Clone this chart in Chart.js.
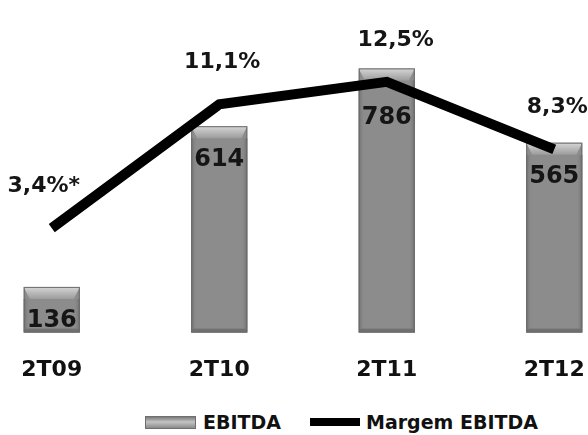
<!DOCTYPE html>
<html>
<head>
<meta charset="utf-8">
<script src="https://cdn.jsdelivr.net/npm/chart.js@4.4.0/dist/chart.umd.min.js"></script>
<style>
  html, body { margin: 0; padding: 0; background: #fff; overflow: hidden; }
  body { width: 588px; height: 435px; position: relative; font-family: "DejaVu Sans", sans-serif; }
  #wrap { position: absolute; left: -32px; top: 0; width: 670px; height: 407px; }
  #legend { position: absolute; left: 145px; top: 411px; display: flex; align-items: center;
            font-weight: bold; font-size: 19px; color: #111; white-space: nowrap; }
  .sw-bar { width: 51px; height: 13px; margin-right: 7px;
            background: linear-gradient(#7a7a7a, #c4c4c4 45%, #8a8a8a 100%); border: 1px solid #6f6f6f; box-sizing: border-box; }
  .sw-line { width: 50px; height: 8px; background: #000; margin-left: 29px; margin-right: 6px; }
</style>
</head>
<body>
<div id="wrap"><canvas id="chart" width="670" height="407"></canvas></div>
<div id="legend">
  <span class="sw-bar"></span><span>EBITDA</span>
  <span class="sw-line"></span><span>Margem EBITDA</span>
</div>
<script>
var categories = ['2T09', '2T10', '2T11', '2T12']
var ebitda = [136, 614, 786, 565]
var margem = [3.4, 11.1, 12.5, 8.3]
var margemLabels = ['3,4%*', '11,1%', '12,5%', '8,3%']

// bevel look on the bars, like the office chart
var bevelPlugin = {
  id: 'bevel',
  afterDatasetDraw: function(chart, args) {
    if (args.index !== 0) return
    var ctx = chart.ctx
    chart.getDatasetMeta(0).data.forEach(function(bar) {
      var w = bar.width, l = bar.x - w / 2, r = bar.x + w / 2, t = bar.y, b = bar.base
      var h = b - t, bev = Math.min(12, h / 3)
      ctx.save()
      var g = ctx.createLinearGradient(0, t, 0, t + bev)
      g.addColorStop(0, '#d6d6d6')
      g.addColorStop(1, '#9c9c9c')
      ctx.fillStyle = g
      ctx.beginPath()
      ctx.moveTo(l, t); ctx.lineTo(r, t); ctx.lineTo(r - 6, t + bev); ctx.lineTo(l + 6, t + bev); ctx.closePath()
      ctx.fill()
      var gl = ctx.createLinearGradient(l, 0, l + 6, 0)
      gl.addColorStop(0, '#6c6c6c'); gl.addColorStop(1, 'rgba(140,140,140,0)')
      ctx.fillStyle = gl
      ctx.fillRect(l, t + bev, 6, h - bev - 4)
      var gr = ctx.createLinearGradient(r, 0, r - 6, 0)
      gr.addColorStop(0, '#6c6c6c'); gr.addColorStop(1, 'rgba(140,140,140,0)')
      ctx.fillStyle = gr
      ctx.fillRect(r - 6, t + bev, 6, h - bev - 4)
      ctx.fillStyle = '#707070'
      ctx.fillRect(l, b - 4, w, 4)
      ctx.strokeStyle = '#6a6a6a'
      ctx.lineWidth = 1
      ctx.strokeRect(l + 0.5, t + 0.5, w - 1, h - 1)
      ctx.restore()
    })
  }
}

var labelPlugin = {
  id: 'valueLabels',
  afterDatasetsDraw: function(chart) {
    var ctx = chart.ctx
    var pts = chart.getDatasetMeta(1).data
    ctx.save()
    ctx.textAlign = 'center'
    ctx.textBaseline = 'middle'
    ctx.fillStyle = '#151515'
    ctx.font = 'bold 24px "DejaVu Sans"'
    chart.getDatasetMeta(0).data.forEach(function(bar, i) {
      // push the number under the line when the line crosses the bar top
      var y = pts[i].y > bar.y + 10 ? pts[i].y + 36 : bar.y + 34
      ctx.fillText(String(ebitda[i]), bar.x, y)
    })
    ctx.font = 'bold 22px "DejaVu Sans"'
    pts.forEach(function(pt, i) {
      var dx = i == 0 ? -8 : (i == 2 ? 9 : 3)
      ctx.fillText(margemLabels[i], pt.x + dx, pt.y - 42)
    })
    ctx.restore()
  }
}

new Chart(document.getElementById('chart'), {
  type: 'bar',
  data: {
    labels: categories,
    datasets: [{
      label: 'EBITDA',
      data: ebitda,
      backgroundColor: '#8c8c8c',
      borderWidth: 0,
      categoryPercentage: 1,
      barPercentage: 0.335,
      yAxisID: 'y',
      order: 2
    }, {
      type: 'line',
      label: 'Margem EBITDA',
      data: margem,
      borderColor: '#000',
      borderWidth: 10,
      pointRadius: 0,
      tension: 0,
      yAxisID: 'y1',
      order: 1
    }]
  },
  options: {
    responsive: false,
    animation: false,
    devicePixelRatio: 1,
    layout: { padding: { top: 20, left: 0, right: 0, bottom: 0 } },
    plugins: { legend: { display: false }, tooltip: { enabled: false } },
    scales: {
      x: {
        grid: { display: false, drawTicks: false },
        border: { display: false },
        ticks: { color: '#111', font: { family: 'DejaVu Sans', weight: 'bold', size: 22 }, padding: 24 }
      },
      y: { display: false, min: 0, max: 930 },
      y1: { display: false, min: -3.1, max: 16.35 }
    }
  },
  plugins: [bevelPlugin, labelPlugin]
})
</script>
</body>
</html>
